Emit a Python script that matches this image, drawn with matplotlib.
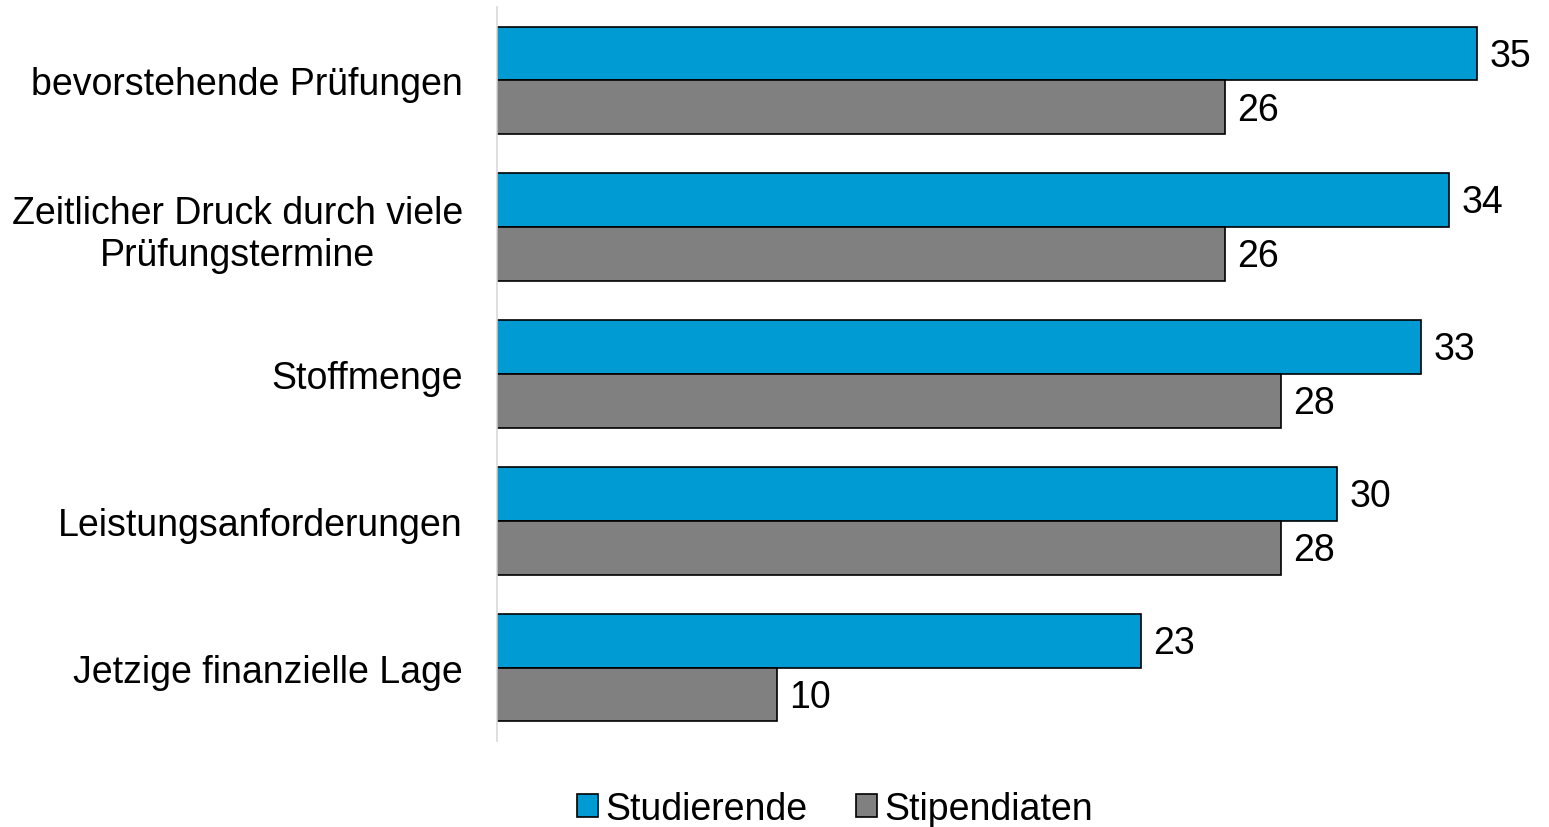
import matplotlib.pyplot as plt
import numpy as np

# categories and values
categories = ['bevorstehende Prüfungen',
              'Zeitlicher Druck durch viele\nPrüfungstermine',
              'Stoffmenge',
              'Leistungsanforderungen',
              'Jetzige finanzielle Lage']
studierende = [35, 34, 33, 30, 23]
stipendiaten = [26, 26, 28, 28, 10]

plt.rcParams['font.family'] = ['Liberation Sans', 'DejaVu Sans']

W, H = 1549, 828
fig = plt.figure(figsize=(W / 100, H / 100), dpi=100)
# axes box in pixel terms: left 497, top 8, bottom 742
ax = fig.add_axes([497 / W, (H - 742) / H, (1535 - 497) / W, (742 - 8) / H])

y = np.arange(len(categories))
h = 0.367
bars1 = ax.barh(y - h / 2, studierende, h, color='#009BD2', edgecolor='black',
                linewidth=1.2, label='Studierende')
bars2 = ax.barh(y + h / 2, stipendiaten, h, color='#808080', edgecolor='black',
                linewidth=1.2, label='Stipendiaten')

for bars in (bars1, bars2):
    for b in bars:
        ax.text(b.get_width() + 0.45, b.get_y() + b.get_height() / 2 + 0.015,
                f'{int(b.get_width())}', va='center', ha='left', fontsize=27)

ax.set_ylim(4.5, -0.5)
ax.set_xlim(0, (1535 - 497) / 28)
ax.set_yticks(y)
ax.set_yticklabels(categories, fontsize=27, multialignment='center')
ax.tick_params(axis='y', length=0, pad=24.5)
ax.set_xticks([])
for s in ['top', 'right', 'bottom']:
    ax.spines[s].set_visible(False)
ax.spines['left'].set_color('#D9D9D9')
ax.spines['left'].set_linewidth(1.2)

fig.legend(loc='center', bbox_to_anchor=(835 / W, (H - 810) / H), ncol=2,
           frameon=False, fontsize=27, handlelength=0.55, handleheight=0.55,
           handletextpad=0.2, columnspacing=1.3)

fig.savefig('out.png', dpi=100)
